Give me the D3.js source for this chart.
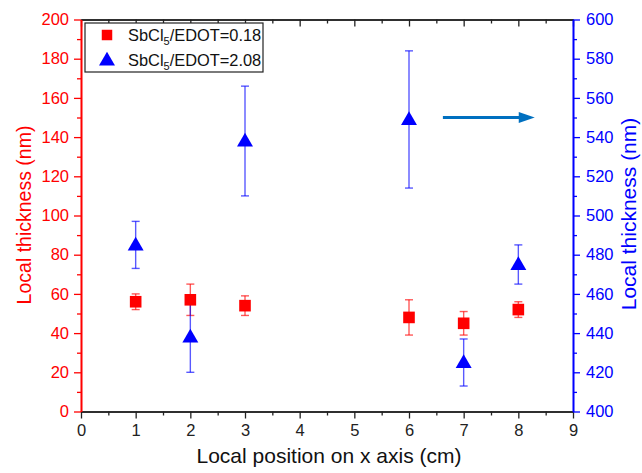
<!DOCTYPE html>
<html>
<head>
<meta charset="utf-8">
<script src="https://cdn.jsdelivr.net/npm/d3@7"></script>
<style>
  body { margin: 0; background: #fff; }
  text { font-family: Arial, "Liberation Sans", sans-serif; }
</style>
</head>
<body>
<div id="chart"></div>
<script>
// data
const positions = [1, 2, 3, 6, 7, 8];
const thinLow = [56, 57, 54, 48, 45, 52];      // SbCl5/EDOT=0.18, left axis
const errLow = [4, 8, 5, 9, 6, 4];
const thinHigh = [485, 438, 538, 549, 425, 475]; // SbCl5/EDOT=2.08, right axis
const errHigh = [12, 18, 28, 35, 12, 10];
const xTicks = [0, 1, 2, 3, 4, 5, 6, 7, 8, 9];
const leftTicks = [0, 20, 40, 60, 80, 100, 120, 140, 160, 180, 200];
const rightTicks = [400, 420, 440, 460, 480, 500, 520, 540, 560, 580, 600];
const arrowFrom = [6.62, 550];
const arrowTo = [8.3, 550];

const W = 642, H = 473;
const M = { left: 81, right: 69, top: 19.5, bottom: 61.5 };
const iw = W - M.left - M.right, ih = H - M.top - M.bottom;
const RED = "#ff0000", BLUE = "#0000ff", AXIS = "#222";

const svg = d3.select("#chart").append("svg").attr("width", W).attr("height", H);
const g = svg.append("g").attr("transform", `translate(${M.left},${M.top})`);

const x = d3.scaleLinear().domain([0, 9]).range([0, iw]);
const yL = d3.scaleLinear().domain([0, 200]).range([ih, 0]);
const yR = d3.scaleLinear().domain([400, 600]).range([ih, 0]);

const minorX = d3.range(0.5, 9, 1);
const minorL = d3.range(10, 200, 20);
const minorR = d3.range(410, 600, 20);

function styleAxis(sel, color) {
  sel.selectAll("path").attr("stroke", color).attr("stroke-width", 1.6);
  sel.selectAll("line").attr("stroke", color).attr("stroke-width", 1.3);
  sel.selectAll("text").attr("fill", color).attr("font-size", 16.5);
}

// bottom axis
const xb = g.append("g").attr("transform", `translate(0,${ih})`)
  .call(d3.axisBottom(x).tickValues(xTicks).tickSize(7).tickSizeOuter(0).tickPadding(6));
styleAxis(xb, AXIS);
const xbm = g.append("g").attr("transform", `translate(0,${ih})`)
  .call(d3.axisBottom(x).tickValues(minorX).tickSize(4).tickSizeOuter(0).tickFormat(""));
styleAxis(xbm, AXIS);

// top axis (inward ticks, no labels)
const xt = g.append("g").call(d3.axisBottom(x).tickValues(xTicks).tickSize(7).tickSizeOuter(0).tickFormat(""));
styleAxis(xt, AXIS);
const xtm = g.append("g").call(d3.axisBottom(x).tickValues(minorX).tickSize(4).tickSizeOuter(0).tickFormat(""));
styleAxis(xtm, AXIS);

// left axis
const yl = g.append("g").call(d3.axisLeft(yL).tickValues(leftTicks).tickSize(7).tickSizeOuter(0).tickPadding(5));
styleAxis(yl, RED);
const ylm = g.append("g").call(d3.axisLeft(yL).tickValues(minorL).tickSize(4).tickSizeOuter(0).tickFormat(""));
styleAxis(ylm, RED);

// right axis
const yr = g.append("g").attr("transform", `translate(${iw},0)`)
  .call(d3.axisRight(yR).tickValues(rightTicks).tickSize(7).tickSizeOuter(0).tickPadding(6));
styleAxis(yr, BLUE);
const yrm = g.append("g").attr("transform", `translate(${iw},0)`)
  .call(d3.axisRight(yR).tickValues(minorR).tickSize(4).tickSizeOuter(0).tickFormat(""));
styleAxis(yrm, BLUE);

// axis titles
svg.append("text").attr("transform", `translate(31,215) rotate(-90)`)
  .attr("text-anchor", "middle").attr("font-size", 19.5).attr("fill", RED).text("Local thickness (nm)");
svg.append("text").attr("transform", `translate(636,214) rotate(-90)`)
  .attr("text-anchor", "middle").attr("font-size", 21).attr("fill", BLUE).text("Local thickness (nm)");
svg.append("text").attr("x", 329).attr("y", 463)
  .attr("text-anchor", "middle").attr("font-size", 21).attr("fill", "#111").text("Local position on x axis (cm)");

// error bars
function errorBars(vals, errs, y, color) {
  const eg = g.append("g").attr("stroke", color).attr("stroke-width", 1.4).attr("stroke-opacity", 0.65);
  positions.forEach((p, i) => {
    const cx = x(p), top = y(vals[i] + errs[i]), bot = y(vals[i] - errs[i]);
    eg.append("line").attr("x1", cx).attr("x2", cx).attr("y1", top).attr("y2", bot);
    eg.append("line").attr("x1", cx - 4).attr("x2", cx + 4).attr("y1", top).attr("y2", top);
    eg.append("line").attr("x1", cx - 4).attr("x2", cx + 4).attr("y1", bot).attr("y2", bot);
  });
}
errorBars(thinLow, errLow, yL, RED);
errorBars(thinHigh, errHigh, yR, BLUE);

const sq = d3.symbol().type(d3.symbolSquare).size(135);
const tri = d3.symbol().type(d3.symbolTriangle).size(110);

g.selectAll(".sq").data(positions).enter().append("path").attr("class", "sq")
  .attr("d", sq).attr("fill", RED)
  .attr("transform", (d, i) => `translate(${x(d)},${yL(thinLow[i])})`);
g.selectAll(".tri").data(positions).enter().append("path").attr("class", "tri")
  .attr("d", tri).attr("fill", BLUE)
  .attr("transform", (d, i) => `translate(${x(d)},${yR(thinHigh[i]) + 1})`);

// arrow pointing to right axis
const ax1 = x(arrowFrom[0]), ax2 = x(arrowTo[0]), ay = yR(arrowTo[1]);
g.append("line").attr("x1", ax1).attr("y1", ay).attr("x2", ax2 - 14).attr("y2", ay)
  .attr("stroke", "#0070c0").attr("stroke-width", 3);
g.append("path").attr("d", `M${ax2 - 16},${ay - 5.5} L${ax2},${ay} L${ax2 - 16},${ay + 5.5} Z`)
  .attr("fill", "#0070c0");

// legend
const lg = svg.append("g").attr("transform", "translate(85,23)");
lg.append("rect").attr("width", 178).attr("height", 49).attr("fill", "#fff").attr("stroke", "#222").attr("stroke-width", 1.2);
const legendItems = [
  { sym: d3.symbol().type(d3.symbolSquare).size(110), color: RED, ratio: "0.18" },
  { sym: tri, color: BLUE, ratio: "2.08" }
];
legendItems.forEach((d, i) => {
  const yy = 12 + i * 25;
  lg.append("path").attr("d", d.sym).attr("fill", d.color).attr("transform", `translate(22,${yy + (i ? 1 : 0)})`);
  const t = lg.append("text").attr("x", 43).attr("y", yy + 6).attr("font-size", 16.4).attr("fill", "#111");
  t.append("tspan").text("SbCl");
  t.append("tspan").attr("font-size", 11).attr("dy", 4).text("5");
  t.append("tspan").attr("dy", -4).text("/EDOT=" + d.ratio);
});
</script>
</body>
</html>
